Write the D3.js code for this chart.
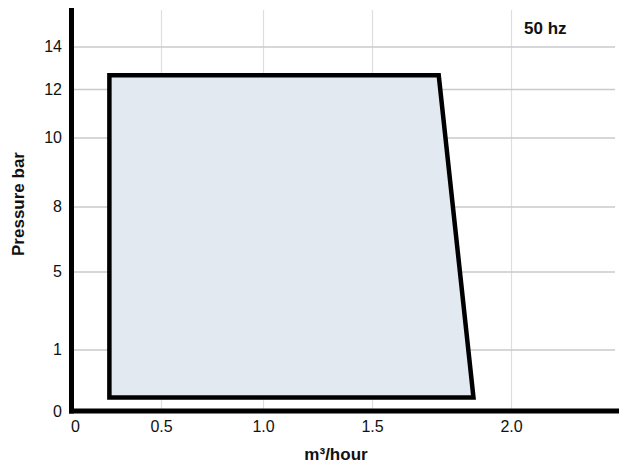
<!DOCTYPE html>
<html><head><meta charset="utf-8">
<script src="https://cdn.jsdelivr.net/npm/d3@7"></script>
<style>
html,body{margin:0;padding:0;background:#fff;}
svg{display:block;font-family:"Liberation Sans",Arial,sans-serif;}
</style></head>
<body>
<svg id="c" width="619" height="464"></svg>
<script>
const xTickValues = [0, 0.5, 1.0, 1.5, 2.0];
const xTickLabels = ["0", "0.5", "1.0", "1.5", "2.0"];
const yTickValues = [0, 1, 5, 8, 10, 12, 14];
const yTickLabels = ["0", "1", "5", "8", "10", "12", "14"];
const flow = [0.21, 1.74, 1.865, 0.21];
const pressure = [12.65, 12.65, 0.22, 0.22];
const xTitle = "m³/hour";
const yTitle = "Pressure bar";
const note = "50 hz";

const svg = d3.select("#c");
const x = d3.scaleLinear().domain(xTickValues).range([72, 161, 263, 372, 511]);
const y = d3.scaleLinear().domain(yTickValues).range([411, 349.5, 271.5, 206.5, 137.5, 89, 46.5]);
const gridTop = 10, gridRight = 615, axisY = 411, axisX = 72;

// vertical grid
svg.append("g").call(
  d3.axisBottom(x).tickValues(xTickValues.slice(1)).tickSize(-(axisY - gridTop)).tickFormat("")
).attr("transform", `translate(0,${axisY})`)
 .call(g => g.select(".domain").remove())
 .call(g => g.selectAll("line").attr("stroke", "#dedede").attr("stroke-width", 1.2));

// horizontal grid
svg.append("g").call(
  d3.axisLeft(y).tickValues(yTickValues.slice(1)).tickSize(-(gridRight - axisX)).tickFormat("")
).attr("transform", `translate(${axisX},0)`)
 .call(g => g.select(".domain").remove())
 .call(g => g.selectAll("line").attr("stroke", "#c9c9cf").attr("stroke-width", 1.3));

// polygon
const pts = flow.map((f, i) => [x(f), y(pressure[i])]);
svg.append("path")
  .attr("d", d3.line()(pts) + "Z")
  .attr("fill", "#e2e9f0")
  .attr("stroke", "#000")
  .attr("stroke-width", 4.5)
  .attr("stroke-linejoin", "miter");

// axis lines
svg.append("line").attr("x1", axisX - 0.5).attr("x2", axisX - 0.5).attr("y1", 8).attr("y2", axisY + 2.5)
  .attr("stroke", "#000").attr("stroke-width", 5);
svg.append("line").attr("x1", axisX - 3).attr("x2", 619).attr("y1", axisY).attr("y2", axisY)
  .attr("stroke", "#000").attr("stroke-width", 5);

// tick labels
svg.append("g").attr("transform", `translate(${axisX},0)`)
  .call(d3.axisLeft(y).tickValues(yTickValues).tickSize(0).tickPadding(10)
    .tickFormat((d, i) => yTickLabels[i]))
  .call(g => g.select(".domain").remove())
  .call(g => g.selectAll("text").attr("font-size", 16).attr("fill", "#111")
    .attr("font-family", "Liberation Sans, Arial, sans-serif"));

svg.append("g").attr("transform", `translate(0,${axisY})`)
  .call(d3.axisBottom(x).tickValues(xTickValues).tickSize(0).tickPadding(10)
    .tickFormat((d, i) => xTickLabels[i]))
  .call(g => g.select(".domain").remove())
  .call(g => g.selectAll("text").attr("font-size", 16).attr("fill", "#111")
    .attr("font-family", "Liberation Sans, Arial, sans-serif"))
  .call(g => g.selectAll(".tick").filter((d, i) => i === 0).select("text").attr("dx", 3));

// titles
svg.append("text").attr("x", 336).attr("y", 460).attr("text-anchor", "middle")
  .attr("font-size", 17).attr("font-weight", "bold").attr("fill", "#111").text(xTitle);
svg.append("text").attr("transform", "translate(24,204) rotate(-90)").attr("text-anchor", "middle")
  .attr("font-size", 17).attr("font-weight", "bold").attr("fill", "#111").text(yTitle);
svg.append("text").attr("x", 524).attr("y", 34)
  .attr("font-size", 17).attr("font-weight", "bold").attr("fill", "#111").text(note);
</script>
</body></html>
